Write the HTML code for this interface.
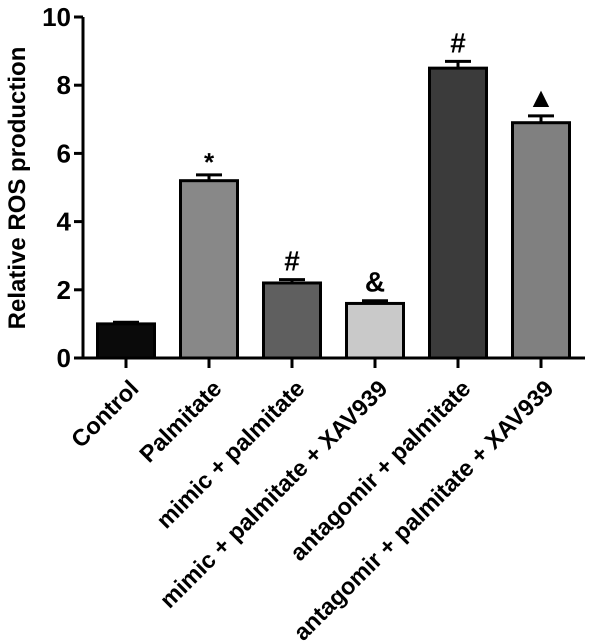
<!DOCTYPE html>
<html><head><meta charset="utf-8"><style>
body{margin:0;background:#fff;}
svg{display:block;font-family:"Liberation Sans",Arial,sans-serif;font-weight:bold;text-rendering:geometricPrecision;}
</style></head><body>
<svg id="chart" width="602" height="642" viewBox="0 0 602 642"></svg>
<script>
const categories=["Control","Palmitate","mimic + palmitate","mimic + palmitate + XAV939","antagomir + palmitate","antagomir + palmitate + XAV939"];
const values=[1.0,5.2,2.2,1.6,8.5,6.9];
const errors=[0.05,0.17,0.1,0.08,0.2,0.2];
const marks=["","*","#","&","#","\u25B2"];
const colors=["#0a0a0a","#888888","#5f5f5f","#c9c9c9","#3b3b3b","#808080"];
const yTicks=[0,2,4,6,8,10];

const NS="http://www.w3.org/2000/svg";
const svg=document.getElementById('chart');
const x0=83,y0=358,yTop=17,ymax=10;
const y=v=>y0-(y0-yTop)*v/ymax;
const xc=i=>126+i*83;
const bw=57;
function el(t,a,p){const e=document.createElementNS(NS,t);for(const k in a)e.setAttribute(k,a[k]);(p||svg).appendChild(e);return e;}

values.forEach((v,i)=>{
  const r=el('rect',{x:xc(i)-bw/2,y:y(v),width:bw,height:y0-y(v),fill:colors[i],stroke:'#000','stroke-width':3});
  
  
  const et=y(v+errors[i]);
  const ln=el('path',{d:`M${xc(i)} ${y(v)}V${et}M${xc(i)-13} ${et}H${xc(i)+13}`,stroke:'#000','stroke-width':3,fill:'none'});
  
  
  if(marks[i]){
    const t=el('text',{x:xc(i),y:et-(marks[i]==='*'?4:9),'text-anchor':'middle','font-size':marks[i]==='*'?26:28});
    t.textContent=marks[i];
    
    
  }
  const tk=el('line',{x1:xc(i),x2:xc(i),y1:y0,y2:368,stroke:'#000','stroke-width':3});
  
  
  const lb=el('text',{transform:`translate(${xc(i)+14},390) rotate(-45)`,'text-anchor':'end','font-size':23.5});
  lb.textContent=categories[i];
  
  
});
yTicks.forEach(v=>{
  const tk=el('line',{x1:74,x2:x0,y1:y(v),y2:y(v),stroke:'#000','stroke-width':3});
  
  
  const t=el('text',{x:71,y:y(v)+9,'text-anchor':'end','font-size':26});
  t.textContent=v;
  
  
});
const ax=el('path',{d:`M${x0} ${yTop}V${y0}H585`,stroke:'#000','stroke-width':3,fill:'none'});


const yt=el('text',{transform:'translate(25,188) rotate(-90)','text-anchor':'middle','font-size':24});
yt.textContent='Relative ROS production';


</script>
</body></html>
